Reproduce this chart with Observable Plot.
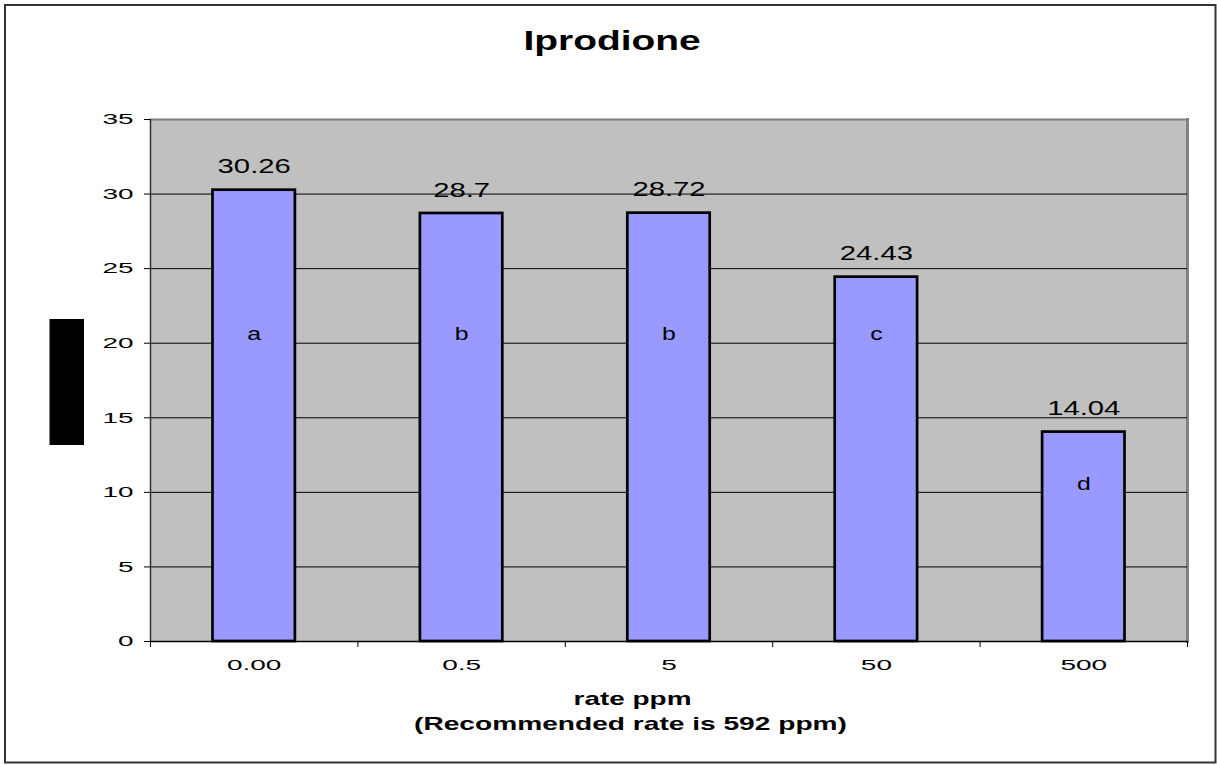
<!DOCTYPE html>
<html>
<head>
<meta charset="utf-8">
<script src="https://cdn.jsdelivr.net/npm/d3@7"></script>
<script src="https://cdn.jsdelivr.net/npm/@observablehq/plot@0.6"></script>
<style>
  html, body { margin: 0; padding: 0; background: #fff; }
  svg { display: block; }
</style>
</head>
<body>
<div id="chart"></div>
<script>
const categories = ["0.00", "0.5", "5", "50", "500"];
const values = [30.26, 28.7, 28.72, 24.43, 14.04];
const valueLabels = ["30.26", "28.7", "28.72", "24.43", "14.04"];
const groupLetters = ["a", "b", "b", "c", "d"];
const yTicks = [0, 5, 10, 15, 20, 25, 30, 35];
const gridTicks = [5, 10, 15, 20, 25, 30];
const titleText = "Iprodione";
const xTitleLines = ["rate ppm", "(Recommended rate is 592 ppm)"];

const data = categories.map((c, i) => ({
  i, cat: c, value: values[i], label: valueLabels[i], letter: groupLetters[i],
  letterY: Math.min(20.6, values[i] - 3.5)
}));

const font = "'Liberation Sans', Arial, sans-serif";

const chart = Plot.plot({
  width: 1217,
  height: 765,
  marginLeft: 150,
  marginRight: 30,
  marginTop: 119,
  marginBottom: 124,
  style: { fontFamily: font, background: "#ffffff", overflow: "visible" },
  x: { type: "linear", domain: [0, categories.length], axis: null },
  y: { domain: [0, 35], axis: null },
  marks: [
    Plot.frame({ fill: "#c0c0c0" }),
    Plot.frame({ anchor: "top", stroke: "#808080", strokeWidth: 2 }),
    Plot.frame({ anchor: "right", stroke: "#808080", strokeWidth: 3 }),
    Plot.ruleY(gridTicks, { stroke: "#000", strokeWidth: 1 }),
    Plot.rectY(data, {
      x1: d => d.i, x2: d => d.i + 1, y: "value",
      insetLeft: 62.5, insetRight: 62.5,
      fill: "#9999ff", stroke: "#000", strokeWidth: 2.7
    }),
    Plot.ruleX([0], { stroke: "#303030", strokeWidth: 1.5 }),
    Plot.ruleY([0], { stroke: "#000", strokeWidth: 1.5 }),
    Plot.axisY({
      ticks: yTicks, tickSize: 6, tickFormat: () => "", stroke: "#000"
    }),
    Plot.text(yTicks, {
      y: d => d, text: d => String(d), frameAnchor: "left", dx: -17,
      textAnchor: "end", lineAnchor: "middle", fontSize: 15, fill: "#000",
      ariaDescription: "ytick"
    }),
    Plot.axisX({
      ticks: d3.range(categories.length + 1), tickSize: 6, tickFormat: () => "",
      stroke: "#000"
    }),
    Plot.text(data, {
      x: d => d.i + 0.5, text: "cat", frameAnchor: "bottom", dy: 24,
      lineAnchor: "middle", fontSize: 15.4, fill: "#000", ariaDescription: "xtick"
    }),
    Plot.text(data, {
      x: d => d.i + 0.5, y: "value", text: "label", dy: -23,
      lineAnchor: "middle", fontSize: 19.5, fill: "#000", ariaDescription: "vlabel"
    }),
    Plot.text(data, {
      x: d => d.i + 0.5, y: "letterY", text: "letter",
      lineAnchor: "middle", fontSize: 17.5, fill: "#000", ariaDescription: "letter"
    }),
    Plot.text([titleText], {
      frameAnchor: "top", dx: -57, dy: -78, lineAnchor: "middle",
      fontSize: 27, fontWeight: "bold", fill: "#000", ariaDescription: "title"
    }),
    Plot.text([xTitleLines[0]], {
      frameAnchor: "bottom", dx: -36.5, dy: 57, lineAnchor: "middle",
      fontSize: 19, fontWeight: "bold", fill: "#000", ariaDescription: "xtitle1"
    }),
    Plot.text([xTitleLines[1]], {
      frameAnchor: "bottom", dx: -38.5, dy: 82, lineAnchor: "middle",
      fontSize: 19, fontWeight: "bold", fill: "#000", ariaDescription: "xtitle2"
    })
  ]
});

const svg = d3.select(chart);
// outer chart border
svg.append("rect")
  .attr("x", 5).attr("y", 5).attr("width", 1210.5).attr("height", 757.5)
  .attr("fill", "none").attr("stroke", "#333").attr("stroke-width", 2);
// y-axis title box (rendered as a solid block in the original)
svg.append("rect")
  .attr("x", 49.5).attr("y", 319).attr("width", 34.5).attr("height", 126)
  .attr("fill", "#000");

document.getElementById("chart").appendChild(chart);

// The original renders its text horizontally stretched; emulate it.
const stretch = { ytick: 1.86, xtick: 1.82, vlabel: 1.5, letter: 1.42, title: 1.44, xtitle1: 1.47, xtitle2: 1.48 };
for (const [name, k] of Object.entries(stretch)) {
  svg.selectAll(`g[aria-description="${name}"] text`).each(function () {
    const len = this.getComputedTextLength();
    if (len > 0) {
      this.setAttribute("textLength", (len * k).toFixed(2));
      this.setAttribute("lengthAdjust", "spacingAndGlyphs");
    }
  });
}
</script>
</body>
</html>
